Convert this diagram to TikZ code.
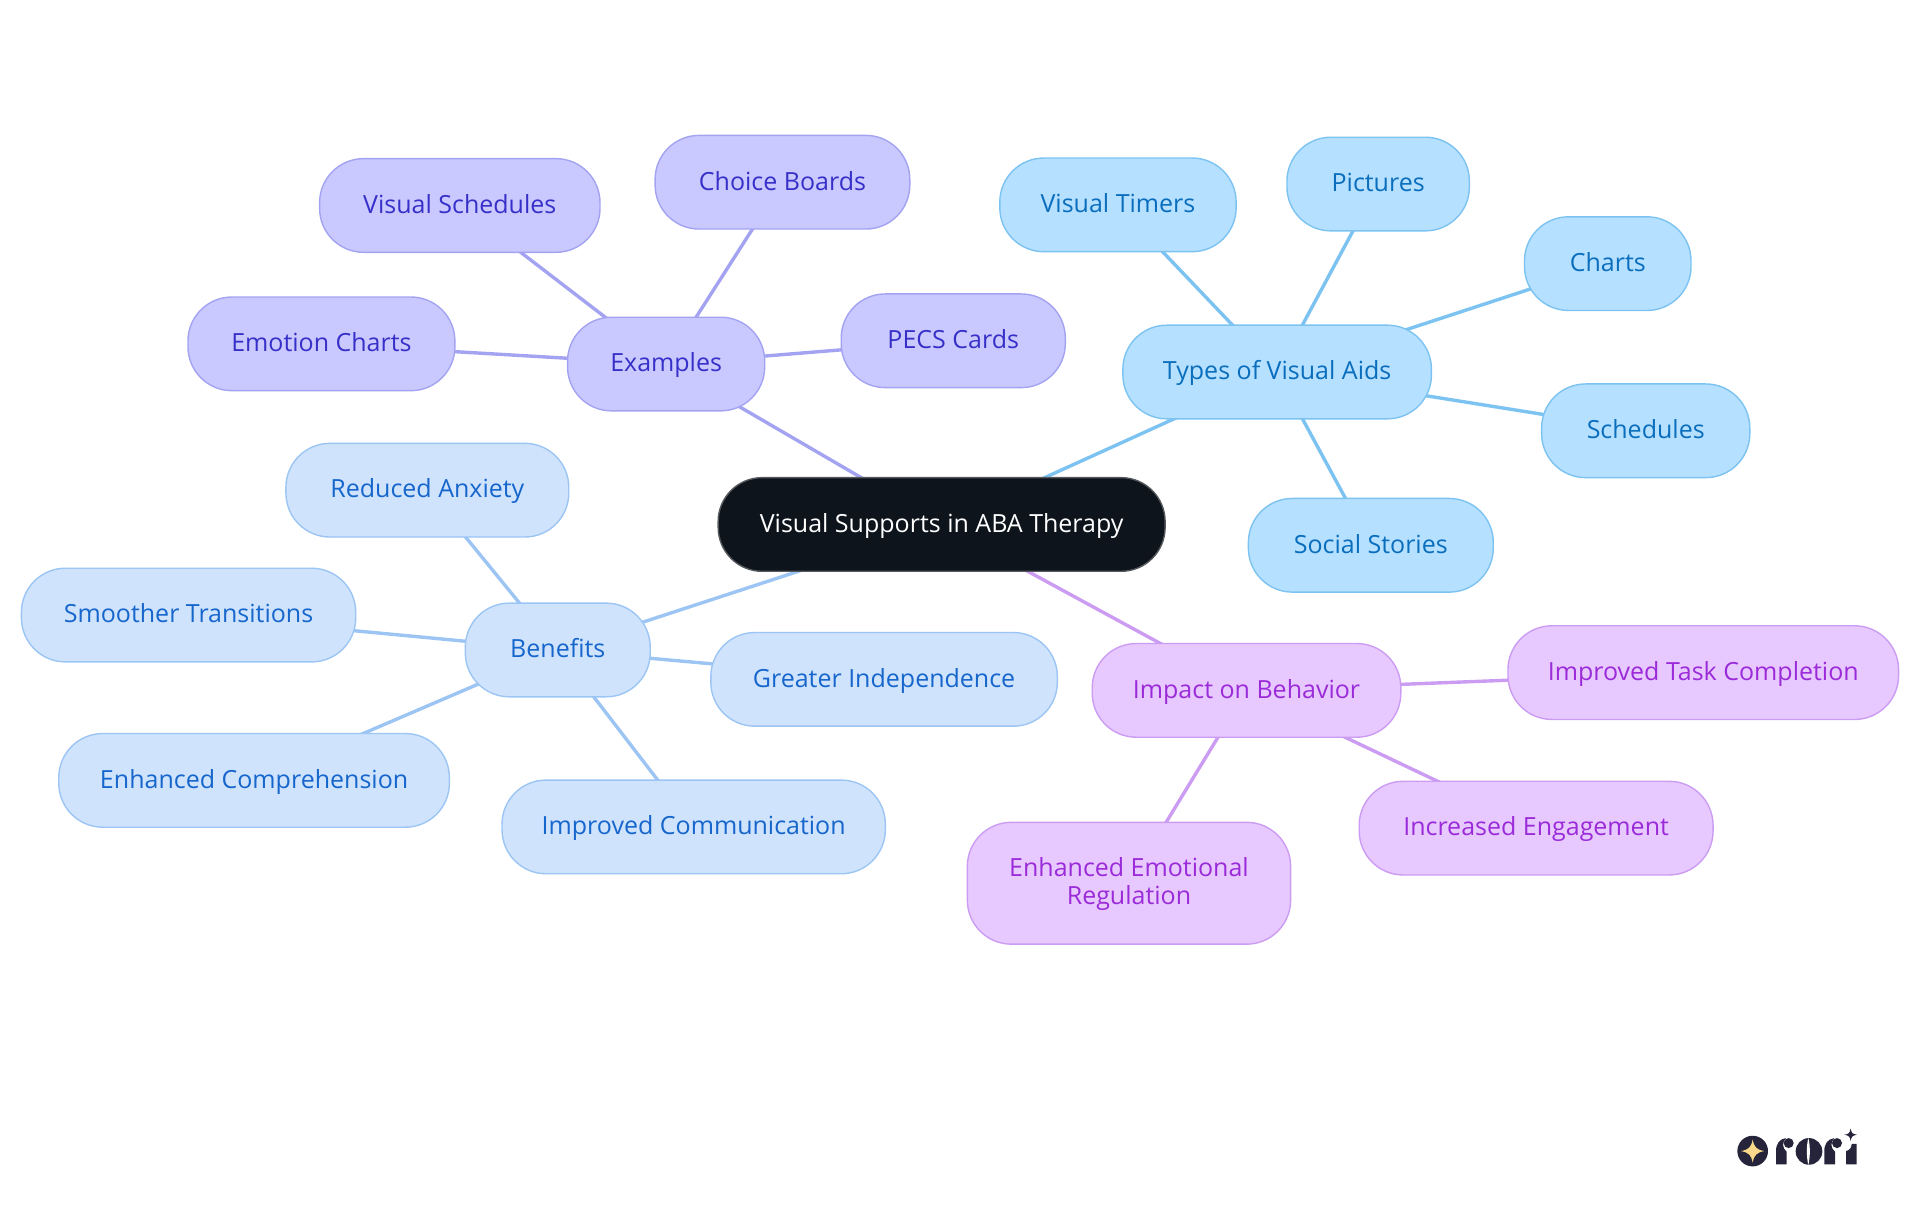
\documentclass[tikz,border=0pt]{standalone}
\usepackage{fontspec}
\setmainfont{Open Sans}
\usetikzlibrary{backgrounds}
\definecolor{rootfill}{HTML}{0D141C}
\definecolor{rootline}{HTML}{55595E}
\definecolor{exfill}{HTML}{C9C9FF}
\definecolor{exline}{HTML}{A3A3F2}
\definecolor{extext}{HTML}{3730C8}
\definecolor{typefill}{HTML}{B5E0FF}
\definecolor{typeline}{HTML}{7CC3F2}
\definecolor{typetext}{HTML}{0A6EBD}
\definecolor{benfill}{HTML}{CFE3FD}
\definecolor{benline}{HTML}{9CC5F4}
\definecolor{bentext}{HTML}{1666CC}
\definecolor{impfill}{HTML}{E7C9FF}
\definecolor{impline}{HTML}{CB9CF2}
\definecolor{imptext}{HTML}{9B2BD8}
\definecolor{logoink}{HTML}{25243A}
\definecolor{logostar}{HTML}{FBD98B}
\def\u{0.61224pt}
\tikzset{
  box/.style 2 args={rectangle,rounded corners=22pt,line width=.7pt,align=center,
    font=\fontsize{12.5}{14}\selectfont,inner sep=0pt,text height=10.2pt,text depth=2.4pt,
    minimum width=#1*\u,minimum height=#2*\u},
  rootbox/.style={box={365}{76.5},draw=rootline,fill=rootfill,text=white},
  exbox/.style 2 args={box={#1}{#2},draw=exline,fill=exfill,text=extext},
  typebox/.style 2 args={box={#1}{#2},draw=typeline,fill=typefill,text=typetext},
  benbox/.style 2 args={box={#1}{#2},draw=benline,fill=benfill,text=bentext},
  impbox/.style 2 args={box={#1}{#2},draw=impline,fill=impfill,text=imptext},
  link/.style={line width=1.7pt}
}
\begin{document}
\begin{tikzpicture}[x=\u,y=-\u]
  \useasboundingbox (0,-0.3) rectangle (1568,991.95);
  \node[rootbox] (root) at (769,428) {Visual Supports in ABA Therapy};
  % examples
  \node[exbox={161}{76.5}] (ex) at (544,297) {Examples};
  \node[exbox={229}{76.5}] (ex1) at (375.5,167.5) {Visual Schedules};
  \node[exbox={208}{76.5}] (ex2) at (639,148.5) {Choice Boards};
  \node[exbox={218}{76.5}] (ex3) at (262.5,280.5) {Emotion Charts};
  \node[exbox={183}{76.5}] (ex4) at (778.5,278) {PECS Cards};
  % types
  \node[typebox={252}{76.5}] (ty) at (1043,303.5) {Types of Visual Aids};
  \node[typebox={193}{76.5}] (ty1) at (913,167) {Visual Timers};
  \node[typebox={149}{76.5}] (ty2) at (1125.5,150) {Pictures};
  \node[typebox={136}{76.5}] (ty3) at (1313,215) {Charts};
  \node[typebox={170}{76.5}] (ty4) at (1344,351.5) {Schedules};
  \node[typebox={200}{76.5}] (ty5) at (1119.5,445) {Social Stories};
  % benefits
  \node[benbox={151}{76.5}] (be) at (455.5,530.5) {Benefits};
  \node[benbox={231}{76.5}] (be1) at (349,400) {Reduced Anxiety};
  \node[benbox={273}{76.5}] (be2) at (154,502) {Smoother Transitions};
  \node[benbox={319}{76.5}] (be3) at (207.5,637) {Enhanced Comprehension};
  \node[benbox={313}{76.5}] (be4) at (566.5,675) {Improved Communication};
  \node[benbox={283}{76.5}] (be5) at (722,554.5) {Greater Independence};
  % impact
  \node[impbox={252}{76.5}] (im) at (1018,563.5) {Impact on Behavior};
  \node[impbox={319}{76.5}] (im1) at (1391,549) {Improved Task Completion};
  \node[impbox={289}{76.5}] (im2) at (1254.5,676) {Increased Engagement};
  \node[impbox={264}{99.5},text height=24pt] (im3) at (922,721) {Enhanced Emotional\\Regulation};
  \begin{scope}[on background layer]
    \draw[link,exline] (root.center) -- (ex.center);
    \foreach \n in {ex1,ex2,ex3,ex4} \draw[link,exline] (ex.center) -- (\n.center);
    \draw[link,typeline] (root.center) -- (ty.center);
    \foreach \n in {ty1,ty2,ty3,ty4,ty5} \draw[link,typeline] (ty.center) -- (\n.center);
    \draw[link,benline] (root.center) -- (be.center);
    \foreach \n in {be1,be2,be3,be4,be5} \draw[link,benline] (be.center) -- (\n.center);
    \draw[link,impline] (root.center) -- (im.center);
    \foreach \n in {im1,im2,im3} \draw[link,impline] (im.center) -- (\n.center);
  \end{scope}
  % logo
  \begin{scope}[shift={(1372,890.2)},x=0.2722*\u,y=-0.2722*\u]
    \fill[logoink] (218,182) circle (46);
    \fill[logostar] (218,147) .. controls (222,170) and (230,178) .. (253,182) .. controls (230,186) and (222,194) .. (218,217) .. controls (214,194) and (206,186) .. (183,182) .. controls (206,178) and (214,170) .. (218,147) -- cycle;
    \foreach \xo in {0,145} {
      \fill[logoink,xshift=\xo*0.2722*\u] (288,222) -- (288,182) .. controls (288,160) and (298,146) .. (318,143) .. controls (306,156) and (306,172) .. (320,184) -- (320,222) -- cycle;
      \fill[logoink,xshift=\xo*0.2722*\u] (326,158) circle (15);
    }
    \fill[logoink] (387,183) circle (40);
    \fill[white] (385,143) .. controls (379,165) and (379,200) .. (385,223) .. controls (391,200) and (391,165) .. (385,143) -- cycle;
    \fill[logoink] (498,222) -- (498,182) .. controls (510,180) and (515,170) .. (515,160) -- (530,160) -- (530,222) -- cycle;
    \fill[logoink] (512,114) .. controls (514,128) and (518,131) .. (531,133) .. controls (518,135) and (514,138) .. (512,152) .. controls (510,138) and (506,135) .. (493,133) .. controls (506,131) and (510,128) .. (512,114) -- cycle;
  \end{scope}
\end{tikzpicture}
\end{document}
